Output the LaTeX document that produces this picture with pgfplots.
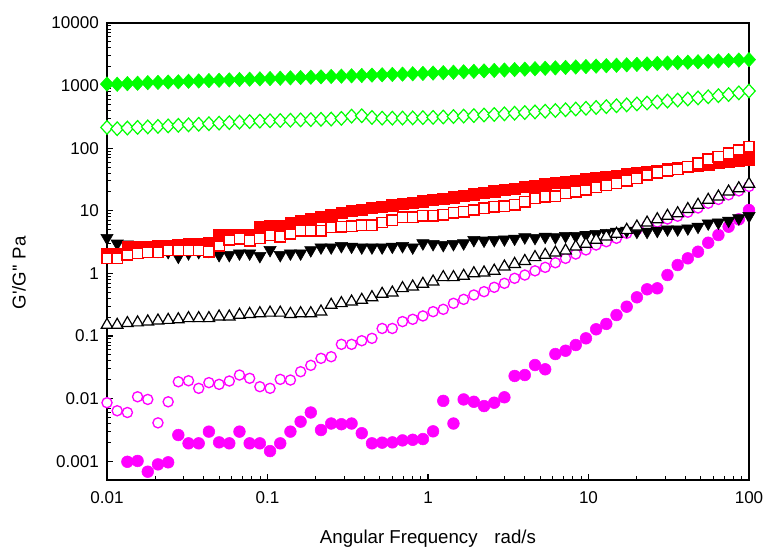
\documentclass[border=0pt]{standalone}
\usepackage{pgfplots}
\pgfplotsset{compat=1.18}
\usepackage{pgfplotstable}
\usepackage{fontspec}
\setmainfont{Liberation Sans}
\newfontfamily\plainsans{Liberation Sans}
\definecolor{mygreen}{RGB}{0,255,0}
\definecolor{myred}{RGB}{255,0,0}
\definecolor{mymag}{RGB}{255,0,255}

\pgfplotstableread{
x g1 g2 r1 r2 b1 b2 m1 m2
0.01 1059 215 2.08 1.74 3.7 0.150 nan 0.0086
0.011575 1050 205 2.08 1.74 3.0 0.150 nan 0.0064
0.013398 1075 210 2.64 1.97 2.9 0.160 0.00098 0.0060
0.015508 1090 215 2.66 2.09 2.6 0.164 0.00101 0.0107
0.017951 1114 219 2.70 2.17 2.4 0.170 0.00068 0.0097
0.020778 1125 223 2.75 2.17 2.3 0.176 0.00089 0.0041
0.024051 1140 227 2.80 2.36 2.2 0.180 0.00096 0.0089
0.027826 1150 232 2.87 2.36 1.85 0.184 0.00262 0.0186
0.032209 1172 236 2.93 2.36 2.1 0.192 0.00193 0.0193
0.037276 1185 241 3.00 2.36 2.2 0.192 0.00193 0.0146
0.043147 1200 246 3.05 2.22 2.3 0.192 0.00297 0.0180
0.049941 1215 251 4.15 2.74 1.97 0.204 0.00200 0.0169
0.057804 1233 256 4.15 3.42 1.97 0.204 0.00193 0.0191
0.066911 1250 261 4.15 3.55 2.09 0.217 0.00297 0.0238
0.077426 1265 266 4.20 3.33 2.09 0.224 0.00193 0.0211
0.089634 1280 271 5.45 3.64 1.90 0.230 0.00193 0.0155
0.10372 1296 274 5.70 4.10 2.37 0.235 0.00145 0.0146
0.12007 1312 277 5.85 3.86 1.97 0.235 0.00193 0.0203
0.13895 1330 280 6.45 4.26 2.09 0.224 0.00297 0.0198
0.16083 1345 283 6.80 4.81 2.09 0.230 0.00428 0.0269
0.18616 1362 286 7.50 4.81 2.35 0.230 0.0060 0.034
0.21544 1380 289 8.00 4.80 2.61 0.245 0.00315 0.044
0.24936 1398 292 8.70 5.45 2.61 0.313 0.0040 0.0467
0.28865 1415 300 9.30 5.60 2.74 0.333 0.0039 0.0736
0.33408 1432 325 9.90 5.70 2.68 0.353 0.0040 0.0736
0.38667 1450 330 10.5 5.90 2.61 0.376 0.0028 0.0841
0.44755 1470 310 11.1 5.90 2.61 0.415 0.00193 0.0918
0.51795 1488 302 11.7 6.50 2.61 0.469 0.00198 0.132
0.59948 1507 302 12.3 7.10 2.68 0.492 0.0020 0.132
0.69390 1525 303 12.9 7.90 2.74 0.578 0.00215 0.170
0.80316 1545 305 13.5 7.90 2.61 0.614 0.0022 0.185
0.92957 1565 308 14.2 8.30 3.03 0.678 0.00226 0.209
1.0758 1585 311 15.0 8.30 2.95 0.738 0.0030 0.245
1.2451 1610 315 15.7 8.60 2.85 0.867 0.0092 0.267
1.4411 1636 320 16.5 9.30 2.95 0.867 0.0040 0.333
1.6681 1662 326 17.4 9.70 3.03 0.91 0.0097 0.385
1.9307 1690 332 18.4 10.3 3.42 1.00 0.0089 0.452
2.2344 1718 339 19.4 11.0 3.35 1.03 0.0076 0.511
2.5862 1746 346 20.5 11.6 3.42 1.10 0.0086 0.600
2.9933 1774 354 21.6 11.9 3.50 1.28 0.0105 0.695
3.4644 1803 362 22.8 12.4 3.60 1.41 0.023 0.836
4.0103 1832 371 24.2 14.0 3.78 1.57 0.0238 0.942
4.6416 1861 380 25.4 15.8 3.70 1.81 0.0344 1.10
5.3717 1890 390 26.6 16.8 3.85 1.97 0.0294 1.25
6.2177 1919 400 27.8 17.2 3.78 2.14 0.0515 1.48
7.1969 1950 411 29.1 19.0 3.96 2.31 0.0582 1.74
8.3283 1982 422 30.4 20.2 3.96 2.67 0.0718 2.04
9.6411 2014 434 31.8 21.5 4.10 2.95 0.0918 2.37
11.156 2046 447 33.3 23.7 4.26 3.42 0.128 2.84
12.915 2080 461 34.9 25.8 4.45 3.86 0.156 3.21
14.945 2114 476 36.6 27.5 4.63 4.26 0.216 3.64
17.300 2148 492 38.4 30.3 4.80 4.93 0.294 4.37
20.024 2183 509 40.2 33.0 4.63 5.57 0.415 5.0
23.177 2218 527 42.1 37.3 4.63 6.45 0.557 5.8
26.827 2254 546 44.1 40.6 4.80 7.30 0.578 6.6
31.048 2291 566 46.2 43.7 5.06 8.26 0.942 7.4
35.938 2328 588 48.4 46.0 5.06 9.10 1.36 8.2
41.580 2365 611 50.7 50.6 5.25 10.6 1.74 9.5
48.128 2402 636 53.0 57.4 5.57 12.4 2.22 11.1
55.708 2440 662 55.5 66.4 6.30 14.9 3.09 13.2
64.483 2477 690 58.0 73.3 6.50 16.8 4.10 15.2
74.637 2517 720 60.6 82.8 6.95 20.2 5.57 18.0
86.394 2558 765 63.4 93.6 7.60 22.8 7.31 20.8
100 2600 820 66.4 106 8.26 26.8 10.3 24.5
}\datatable

\begin{document}
\begin{tikzpicture}
\begin{loglogaxis}[
  scale only axis, width=481.5pt, height=342.75pt,
  xmin=0.01, xmax=100, ymin=0.000501, ymax=10000,
  xtick={0.01,0.1,1,10,100}, xticklabels={0.01,0.1,1,10,100},
  ytick={0.001,0.01,0.1,1,10,100,1000,10000},
  yticklabels={0.001,0.01,0.1,1,10,100,1000,10000},
  minor xtick={}, minor ytick={},
  tick align=inside, xtick pos=left, ytick pos=left,
  major tick length=4.5pt,
  tick style={black, line width=0.8pt},
  axis line style={line width=0.8pt},
  tick label style={font=\fontsize{12.8}{15}\selectfont},
  xticklabel style={yshift=-5.5pt},
  yticklabel style={xshift=-2.5pt},
  xlabel={Angular Frequency\hspace{0.9em}rad/s},
  xlabel style={font=\fontsize{14}{16}\selectfont, at={(axis description cs:0.5,0)}, anchor=north, inner sep=0pt, yshift=-37.5pt},
  ylabel={\plainsans G'/G'' Pa},
  ylabel style={font=\fontsize{14}{16}\selectfont, at={(axis description cs:-0.137,0.453)}, anchor=center, inner sep=0pt},
]
\addplot[only marks, mark=*, mark size=4.4pt, color=mymag, mark options={draw=mymag, fill=mymag}] table[x=x, y=m1]{\datatable};
\addplot[only marks, mark=*, mark size=3.8pt, color=mymag, mark options={draw=mymag, fill=white, line width=1pt}] table[x=x, y=m2]{\datatable};
\addplot[only marks, mark=triangle*, mark size=5.3pt, color=black, mark options={rotate=180, draw=black, fill=black}] table[x=x, y=b1]{\datatable};
\addplot[only marks, mark=triangle*, mark size=5.0pt, color=black, mark options={draw=black, fill=white, line width=0.9pt}] table[x=x, y=b2]{\datatable};
\addplot[only marks, mark=square*, mark size=4.2pt, color=myred, mark options={draw=myred, fill=myred}] table[x=x, y=r1]{\datatable};
\addplot[only marks, mark=square*, mark size=3.9pt, color=myred, mark options={draw=myred, fill=white, line width=1.1pt}] table[x=x, y=r2]{\datatable};
\addplot[only marks, mark=diamond*, mark size=5.4pt, color=mygreen, mark options={xscale=1.22, draw=mygreen, fill=mygreen}] table[x=x, y=g1]{\datatable};
\addplot[only marks, mark=diamond*, mark size=5.1pt, color=mygreen, mark options={xscale=1.22, draw=mygreen, fill=white, line width=0.9pt}] table[x=x, y=g2]{\datatable};
\end{loglogaxis}
\pgfresetboundingbox
\path (current axis.south west) ++(-80.25pt,-49.5pt) rectangle ++(574.5pt,409.5pt);
\end{tikzpicture}
\end{document}
